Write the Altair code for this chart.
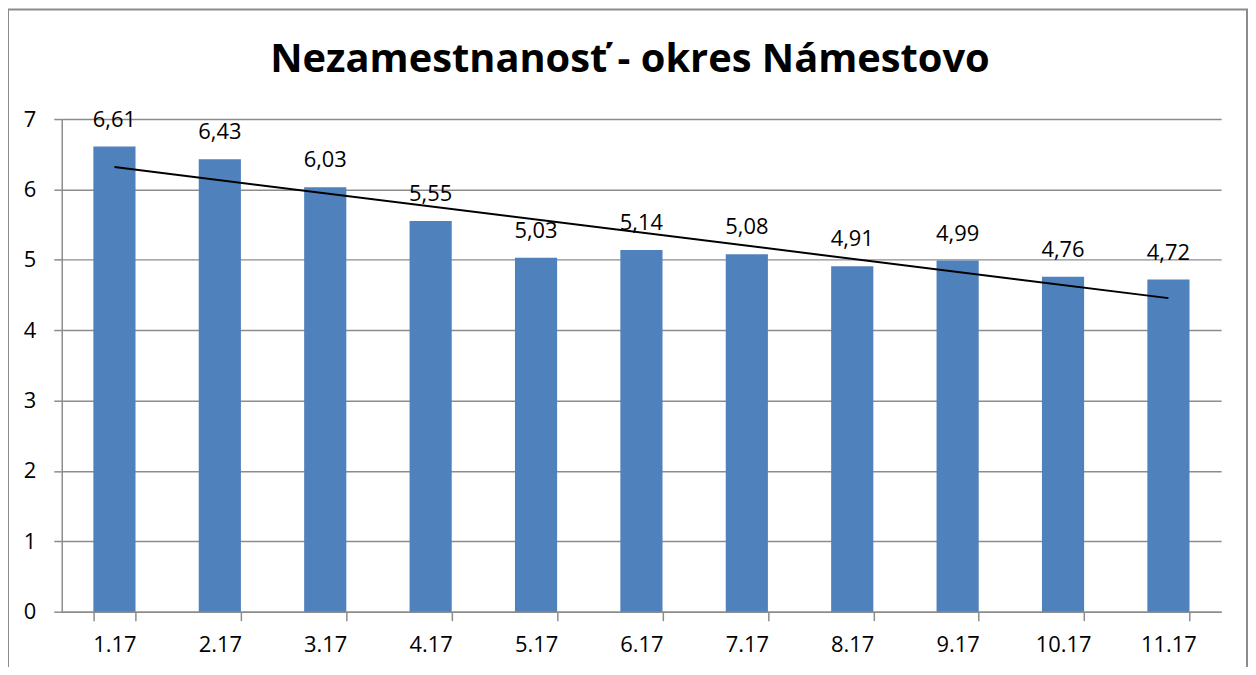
import altair as alt
import pandas as pd

months = ["1.17", "2.17", "3.17", "4.17", "5.17", "6.17", "7.17", "8.17", "9.17", "10.17", "11.17"]
rates = [6.61, 6.43, 6.03, 5.55, 5.03, 5.14, 5.08, 4.91, 4.99, 4.76, 4.72]
idx = list(range(1, len(months) + 1))
title_text = "Nezamestnanosť - okres Námestovo"

df = pd.DataFrame({"month": months, "rate": rates, "idx": idx})

FONT = "Open Sans"
W, H = 1165, 495
GRID = "#8c8c8c"

xenc = alt.X("month:N", sort=months, title=None,
             scale=alt.Scale(type="band", domain=months, paddingInner=0.6, paddingOuter=0.3),
             axis=alt.Axis(labelAngle=0, tickBand="extent", tickSize=9,
                           labelPadding=14, domainColor=GRID, tickColor=GRID,
                           labelFont=FONT, labelFontSize=22, labelColor="#000",
                           domainWidth=1.5, tickWidth=1.5))
yenc = alt.Y("rate:Q", title=None,
             scale=alt.Scale(domain=[0, 7], nice=False),
             axis=alt.Axis(values=list(range(0, 8)), format="d", tickSize=8, labelPadding=18,
                           grid=True, gridColor=GRID, gridWidth=1.5,
                           domainColor=GRID, tickColor=GRID,
                           domainWidth=1.5, tickWidth=1.5,
                           labelFont=FONT, labelFontSize=22, labelColor="#000"))

base = alt.Chart(df)

bars = base.mark_bar(color="#4F81BD").encode(x=xenc, y=yenc)

labels = base.transform_calculate(
    lab="replace(format(datum.rate, '.2f'), '.', ',')"
).mark_text(baseline="bottom", dy=-15, font=FONT, fontSize=22, color="#000").encode(
    x=xenc, y=yenc, text="lab:N")

trend = base.transform_regression("idx", "rate").mark_line(color="#000", strokeWidth=2).encode(
    x=alt.X("idx:Q", axis=None,
            scale=alt.Scale(domain=[0.5, len(months) + 0.5], nice=False, zero=False)),
    y=yenc)

one = pd.DataFrame({"t": [title_text]})
frame = alt.Chart(one).mark_rect(
    fill=None, stroke=GRID, strokeWidth=2
).encode(x=alt.value(-54), x2=alt.value(1191), y=alt.value(-110), y2=alt.value(700))

title = alt.Chart(one).mark_text(
    font=FONT, fontSize=40, fontWeight="bold", color="#000", baseline="middle", align="center"
).encode(x=alt.value(571), y=alt.value(-59), text="t:N")

bar_layer = alt.layer(bars, labels)

chart = alt.layer(frame, bar_layer, trend, title).resolve_scale(x="independent").properties(
    width=W, height=H,
    padding={"left": 54, "top": 110, "right": 27, "bottom": 54},
    autosize=alt.AutoSizeParams(type="none"),
).configure_view(stroke=None)

chart.save("out.html", embed_options={"renderer": "svg", "actions": False})
